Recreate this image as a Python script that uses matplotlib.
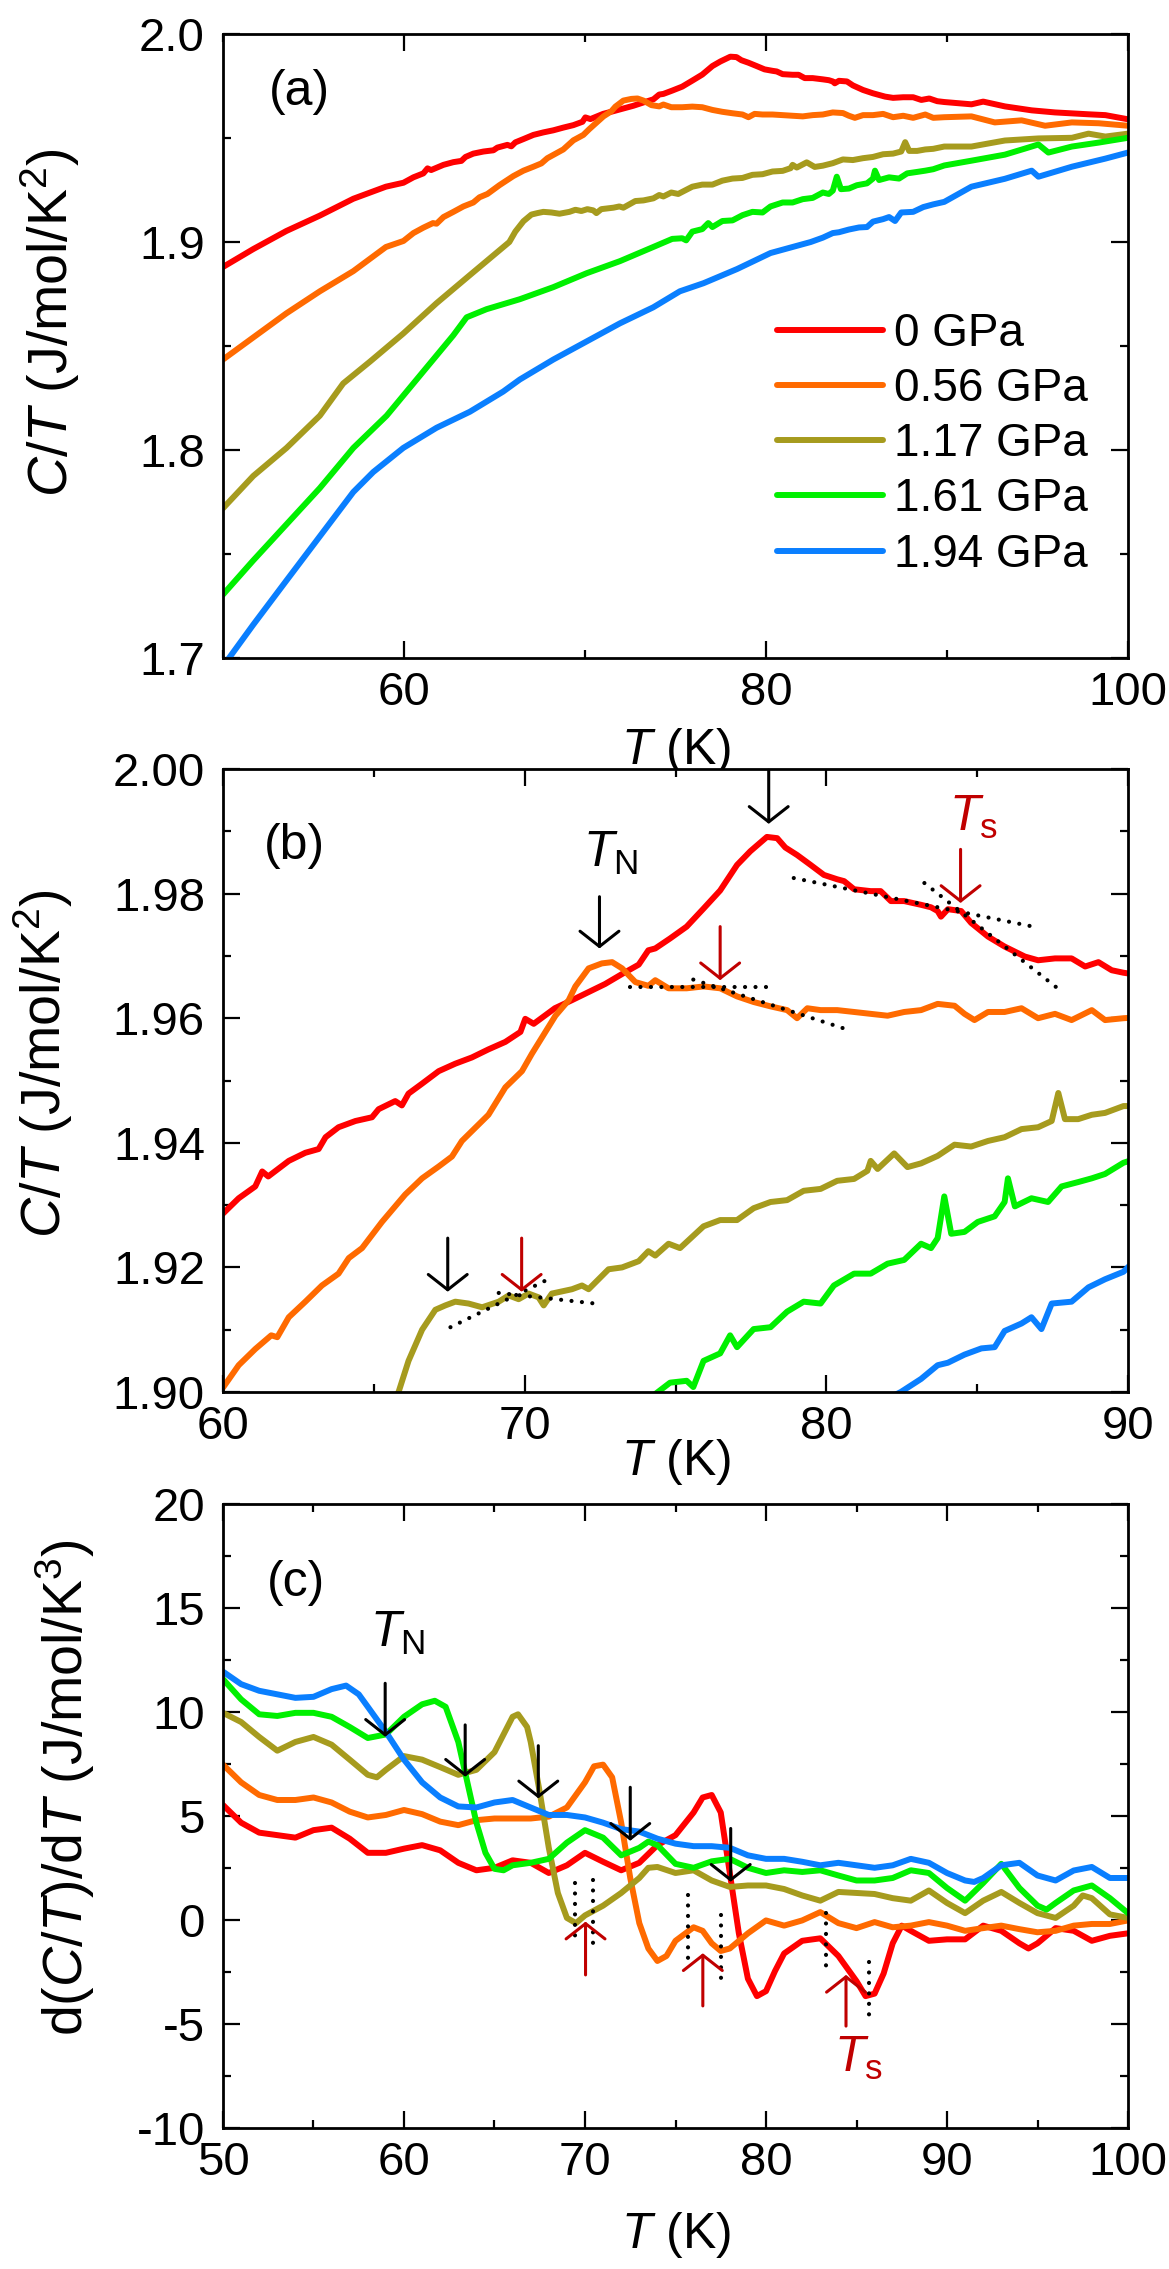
import matplotlib
matplotlib.use('Agg')
import matplotlib.pyplot as plt
from matplotlib.ticker import MultipleLocator, FormatStrFormatter

plt.rcParams['font.family'] = ['Liberation Sans', 'DejaVu Sans']
plt.rcParams['mathtext.fontset'] = 'custom'
plt.rcParams['mathtext.rm'] = 'Liberation Sans'
plt.rcParams['mathtext.it'] = 'Liberation Sans:italic'
plt.rcParams['mathtext.bf'] = 'Liberation Sans:bold'
plt.rcParams['axes.unicode_minus'] = False

# ---------------- data ----------------
pressures = ['0 GPa', '0.56 GPa', '1.17 GPa', '1.61 GPa', '1.94 GPa']
colors = ['#FF0000', '#FF6A00', '#A69B1E', '#00F000', '#0A7FFF']

# C/T (J/mol/K^2) vs T (K)
T_0 = [50, 51.67, 53.5, 55.35, 57.2, 59.0, 59.97, 60.52, 61.07, 61.3, 61.5, 62.18, 62.73, 63.17, 63.4,
       63.83, 64.39, 64.94, 65.16, 65.71, 65.93, 66.15, 66.6, 67.15, 67.7, 68.25, 68.8, 69.36, 69.86,
       70.02, 70.3, 71.0, 71.57, 72.12, 72.67, 73.23, 73.78, 74.1, 74.33, 74.82, 75.37, 75.93, 76.48,
       77.04, 77.48, 78.03, 78.37, 78.64, 79.03, 79.48, 79.92, 80.36, 80.59, 80.92, 81.47, 81.8, 82.14,
       82.58, 83.14, 83.47, 83.69, 83.8, 84.03, 84.47, 84.8, 85.36, 85.91, 86.58, 87.02, 87.58, 88.13,
       88.58, 89.02, 89.46, 89.85, 91.35, 92.0, 93.2, 94.68, 95.97, 97.82, 98.75, 100]
CT_0 = [1.888, 1.8966, 1.9053, 1.9127, 1.9208, 1.9266, 1.9285, 1.9311, 1.933, 1.9354, 1.9346, 1.9371,
        1.9384, 1.939, 1.9409, 1.9425, 1.9435, 1.9441, 1.9454, 1.9467, 1.946, 1.9479, 1.9495, 1.9515,
        1.9527, 1.9537, 1.955, 1.9562, 1.9578, 1.9599, 1.9591, 1.9616, 1.9629, 1.9642, 1.9655, 1.9671,
        1.9686, 1.9709, 1.9712, 1.9728, 1.9747, 1.9776, 1.9805, 1.9846, 1.9868, 1.9891, 1.9889, 1.9874,
        1.9862, 1.9846, 1.983, 1.9823, 1.982, 1.9807, 1.9804, 1.9804, 1.9788, 1.9788, 1.9782, 1.9778,
        1.9772, 1.9763, 1.9775, 1.9772, 1.9753, 1.9731, 1.9715, 1.9699, 1.9693, 1.9696, 1.9696, 1.9683,
        1.969, 1.9677, 1.9673, 1.9662, 1.9675, 1.9652, 1.9633, 1.9623, 1.9614, 1.961, 1.959]

T_056 = [50, 51.67, 53.5, 55.35, 57.2, 59.0, 59.97, 60.52, 61.07, 61.6, 61.8, 62.18, 62.73, 63.28, 63.83,
         64.17, 64.61, 65.27, 66.04, 66.6, 67.15, 67.59, 67.92, 68.8, 69.36, 69.91, 70.24, 71.02, 71.46,
         71.68, 72.12, 72.56, 72.9, 73.23, 73.67, 74.1, 74.33, 74.77, 75.37, 75.93, 76.48, 77.04, 77.59,
         78.15, 78.7, 79.03, 79.37, 79.81, 80.36, 80.92, 81.47, 82.03, 82.58, 83.14, 83.69, 84.25, 84.58,
         84.91, 85.36, 85.91, 86.47, 87.02, 87.58, 88.13, 88.8, 89.24, 89.85, 91.35, 92.64, 94.12, 95.42,
         96.9, 98.38, 100]
CT_056 = [1.8435, 1.8541, 1.8657, 1.8763, 1.886, 1.8976, 1.9005, 1.9043, 1.9069, 1.9091, 1.9088, 1.912,
          1.9145, 1.9171, 1.919, 1.9215, 1.9231, 1.9273, 1.9317, 1.9343, 1.9362, 1.9378, 1.9403, 1.9445,
          1.9489, 1.9515, 1.9543, 1.9604, 1.9629, 1.9651, 1.968, 1.9688, 1.969, 1.968, 1.9658, 1.9652,
          1.9661, 1.9648, 1.9648, 1.9651, 1.9648, 1.9635, 1.9626, 1.9619, 1.9613, 1.96, 1.9616, 1.9613,
          1.9613, 1.961, 1.9607, 1.9604, 1.961, 1.9613, 1.9623, 1.962, 1.9607, 1.9597, 1.961, 1.961,
          1.9616, 1.96, 1.9607, 1.9597, 1.9613, 1.9597, 1.96, 1.9604, 1.9575, 1.9585, 1.9559, 1.9575,
          1.9571, 1.9559]

T_117 = [50, 51.67, 53.51, 55.35, 56.64, 58.12, 59.96, 61.8, 63.64, 65.82, 66.15, 66.6, 67.04, 67.37, 67.7,
         68.14, 68.59, 69.14, 69.47, 69.8, 70.13, 70.46, 70.63, 70.9, 71.57, 71.9, 72.12, 72.78, 73.23,
         73.78, 74.1, 74.33, 74.77, 75.15, 75.93, 76.48, 77.04, 77.59, 78.15, 78.7, 79.25, 79.81, 80.36,
         80.92, 81.36, 81.47, 81.7, 82.25, 82.69, 83.14, 83.69, 84.25, 84.8, 85.36, 85.91, 86.47, 87.02,
         87.47, 87.69, 87.91, 88.35, 88.8, 89.24, 89.85, 91.35, 93.2, 95.05, 96.9, 97.82, 98.75, 100]
CT_117 = [1.772, 1.7875, 1.801, 1.8165, 1.832, 1.8425, 1.856, 1.8706, 1.8841, 1.900, 1.905, 1.91, 1.9132,
          1.9139, 1.9145, 1.9142, 1.9136, 1.9145, 1.9155, 1.9149, 1.9158, 1.9152, 1.9139, 1.9158, 1.9165,
          1.9171, 1.9165, 1.9197, 1.92, 1.921, 1.9226, 1.9219, 1.9238, 1.9231, 1.9266, 1.9276, 1.9276,
          1.9295, 1.9305, 1.9308, 1.9323, 1.9326, 1.9339, 1.9342, 1.9355, 1.9371, 1.9358, 1.9383, 1.9361,
          1.9367, 1.9379, 1.9397, 1.9394, 1.9403, 1.9409, 1.9422, 1.9425, 1.9435, 1.948, 1.9438, 1.9438,
          1.9445, 1.9448, 1.9459, 1.9459, 1.9488, 1.9498, 1.9501, 1.9521, 1.9507, 1.9521]

T_161 = [50, 51.67, 53.51, 55.35, 57.2, 59.04, 60.88, 62.72, 63.46, 64.56, 66.4, 68.25, 70.09, 71.93, 73.77,
         74.82, 75.37, 75.59, 75.93, 76.48, 76.81, 77.04, 77.59, 78.15, 78.7, 79.25, 79.81, 80.25, 80.92,
         81.47, 82.03, 82.58, 83.14, 83.47, 83.69, 83.91, 84.14, 84.58, 85.02, 85.58, 85.91, 86.02, 86.25,
         86.8, 87.35, 87.8, 88.35, 88.8, 89.24, 89.85, 91.35, 93.2, 94.3, 95.05, 95.6, 96.9, 98.38, 100]
CT_161 = [1.7305, 1.7469, 1.7643, 1.7817, 1.801, 1.8165, 1.8358, 1.8551, 1.8638, 1.8677, 1.8725, 1.8783,
          1.885, 1.8908, 1.8976, 1.9015, 1.9018, 1.9008, 1.905, 1.9062, 1.9091, 1.9072, 1.9101, 1.9104,
          1.9129, 1.9145, 1.9142, 1.9171, 1.919, 1.919, 1.9206, 1.9212, 1.9238, 1.9231, 1.9247, 1.9314,
          1.9254, 1.9257, 1.9273, 1.9282, 1.9305, 1.9343, 1.9298, 1.9311, 1.9305, 1.933, 1.9337, 1.9343,
          1.935, 1.9368, 1.9391, 1.942, 1.9449, 1.9469, 1.943, 1.9459, 1.9478, 1.9501]

T_194 = [50, 51.67, 53.51, 55.35, 57.2, 58.3, 59.96, 61.8, 63.64, 65.48, 66.4, 68.25, 70.09, 71.93, 73.77,
         75.24, 76.55, 78.4, 80.25, 82.47, 83.14, 83.69, 84.03, 84.58, 85.14, 85.58, 85.91, 86.47, 86.8,
         87.13, 87.47, 88.13, 88.69, 89.24, 89.85, 91.35, 93.2, 94.68, 95.05, 96.9, 98.75, 100]
CT_194 = [1.696, 1.716, 1.7373, 1.7585, 1.7798, 1.7894, 1.801, 1.8107, 1.8184, 1.8281, 1.8339, 1.8435,
          1.8522, 1.8609, 1.8686, 1.8763, 1.8802, 1.887, 1.8947, 1.900, 1.9021, 1.9043, 1.9047, 1.906,
          1.907, 1.9072, 1.9098, 1.911, 1.912, 1.9101, 1.9142, 1.9145, 1.9168, 1.9181, 1.9193, 1.9266,
          1.9304, 1.9343, 1.9314, 1.9362, 1.9401, 1.943]

# d(C/T)/dT (J/mol/K^3) vs T (K)
Td_0 = [50, 51, 52, 53, 54, 55, 56, 57, 58, 59, 60, 61, 62, 63, 64, 65, 66, 67, 68, 69, 70, 71, 72, 73,
        74, 75, 76, 76.5, 77, 77.5, 78, 78.5, 79, 79.5, 80, 80.5, 81, 82, 83, 84, 85, 85.5, 86, 86.5,
        87, 87.5, 88, 89, 90, 91, 92, 93, 94, 94.5, 95, 96, 97, 98, 99, 100]
dCT_0 = [5.53, 4.68, 4.20, 4.08, 3.96, 4.32, 4.44, 3.91, 3.23, 3.23, 3.43, 3.60, 3.35, 2.75, 2.39, 2.51,
         2.87, 2.75, 2.26, 2.63, 3.23, 2.80, 2.39, 2.75, 3.60, 4.08, 5.17, 5.89, 6.01, 5.17, 2.26, -0.64,
         -2.82, -3.66, -3.42, -2.45, -1.61, -1.00, -0.88, -1.73, -2.94, -3.66, -3.54, -2.57, -1.12,
         -0.27, -0.52, -1.00, -0.93, -0.93, -0.27, -0.52, -1.12, -1.37, -1.12, -0.39, -0.52, -1.00,
         -0.76, -0.64]

Td_056 = [50, 51, 52, 53, 54, 55, 56, 57, 58, 59, 60, 61, 62, 63, 64, 65, 66, 67, 68, 69, 70, 70.5, 71,
          71.5, 72, 72.5, 73, 73.5, 74, 74.5, 75, 76, 76.5, 77, 77.5, 78, 79, 80, 81, 82, 83, 84, 85,
          86, 87, 88, 89, 90, 91, 92, 93, 94, 95, 96, 97, 98, 99, 100]
dCT_056 = [7.47, 6.62, 6.01, 5.77, 5.77, 5.89, 5.65, 5.21, 4.93, 5.05, 5.29, 5.09, 4.73, 4.56, 4.80,
           4.88, 4.88, 4.88, 4.97, 5.41, 6.62, 7.39, 7.47, 6.86, 4.68, 2.02, -0.15, -1.37, -1.97,
           -1.73, -1.00, -0.35, -0.52, -1.12, -1.49, -1.37, -0.64, -0.02, -0.27, -0.02, 0.38, -0.15,
           -0.39, -0.10, -0.35, -0.27, -0.10, -0.27, -0.52, -0.39, -0.27, -0.44, -0.59, -0.52, -0.27,
           -0.19, -0.19, -0.02]

Td_117 = [50, 51, 52, 53, 54, 55, 56, 57, 58, 58.5, 59, 60, 61, 62, 63, 64, 65, 66, 66.3, 66.8, 67,
          67.5, 68, 68.5, 69, 69.5, 70, 71, 72, 73, 73.5, 74, 75, 76, 77, 78, 79, 80, 81, 82, 83, 84,
          85, 86, 87, 88, 89, 90, 91, 92, 93, 94, 95, 96, 97, 97.5, 98, 99, 100]
dCT_117 = [9.96, 9.52, 8.80, 8.14, 8.56, 8.80, 8.43, 7.71, 6.98, 6.86, 7.22, 7.88, 7.71, 7.35, 6.98,
           7.22, 8.07, 9.77, 9.89, 9.28, 8.56, 6.14, 3.47, 1.30, 0.10, -0.15, 0.22, 0.69, 1.30, 2.02,
           2.51, 2.55, 2.26, 2.39, 1.90, 1.59, 1.66, 1.66, 1.49, 1.18, 0.93, 1.35, 1.30, 1.25, 1.05,
           0.93, 1.42, 0.82, 0.33, 0.93, 1.35, 0.82, 0.33, 0.10, 0.69, 1.18, 1.05, 0.27, 0.10]

Td_161 = [50, 51, 52, 53, 54, 55, 56, 57, 58, 59, 60, 61, 61.7, 62.3, 63, 63.5, 64, 64.5, 65, 65.5, 66,
          67, 68, 69, 70, 71, 72, 73, 73.5, 74, 75, 76, 77, 78, 79, 80, 81, 82, 83, 84, 85, 86, 87, 88,
          89, 90, 91, 92, 93, 94, 95, 95.5, 96, 97, 98, 99, 100]
dCT_161 = [11.58, 10.61, 9.89, 9.81, 9.96, 9.96, 9.77, 9.28, 8.75, 8.92, 9.77, 10.37, 10.54, 10.25,
           8.56, 6.62, 4.68, 3.23, 2.46, 2.39, 2.63, 2.75, 2.94, 3.72, 4.32, 3.96, 3.11, 3.47, 3.77,
           3.60, 2.70, 2.51, 2.82, 2.94, 2.51, 2.26, 2.39, 2.31, 2.39, 2.14, 1.90, 1.90, 2.02, 2.39,
           2.26, 1.54, 0.93, 1.78, 2.70, 1.54, 0.69, 0.50, 0.82, 1.42, 1.66, 1.05, 0.33]

Td_194 = [50, 51, 52, 53, 54, 55, 56, 56.8, 57.5, 58, 59, 60, 61, 62, 63, 64, 65, 66, 67, 68, 69, 70,
          71, 72, 73, 74, 75, 76, 77, 78, 79, 80, 81, 82, 83, 84, 85, 86, 87, 88, 89, 90, 91, 91.5, 92,
          93, 94, 95, 96, 97, 98, 99, 100]
dCT_194 = [11.94, 11.34, 11.02, 10.85, 10.68, 10.73, 11.10, 11.27, 10.85, 10.25, 9.04, 7.71, 6.62,
           5.89, 5.46, 5.41, 5.65, 5.77, 5.41, 5.05, 5.05, 4.93, 4.68, 4.37, 4.25, 3.91, 3.67, 3.55,
           3.55, 3.47, 3.11, 2.94, 2.94, 2.80, 2.63, 2.75, 2.63, 2.51, 2.63, 2.94, 2.75, 2.26, 1.90,
           1.83, 2.02, 2.63, 2.75, 2.14, 1.90, 2.38, 2.55, 2.02, 2.02]

CT_T = [T_0, T_056, T_117, T_161, T_194]
CT_V = [CT_0, CT_056, CT_117, CT_161, CT_194]
D_T = [Td_0, Td_056, Td_117, Td_161, Td_194]
D_V = [dCT_0, dCT_056, dCT_117, dCT_161, dCT_194]

# annotations, panel (b): (T, tail, tip)
b_black_arrows = [(72.48, 1.9795, 1.9712), (78.09, 1.9998, 1.9912), (67.45, 1.9247, 1.9161)]
b_red_arrows = [(84.45, 1.9871, 1.9785), (76.48, 1.9747, 1.9661), (69.9, 1.9247, 1.9161)]
b_dotted = [((78.92, 86.86), (1.9825, 1.9747)), ((83.25, 87.85), (1.9817, 1.9641)),
            ((73.5, 78.1), (1.965, 1.965)), ((75.59, 80.81), (1.9662, 1.9580)),
            ((67.54, 70.74), (1.9104, 1.9180)), ((69.14, 72.34), (1.9159, 1.9142))]
b_TN_pos = (72.84, 1.9865)
b_Ts_pos = (84.86, 1.9922)

# annotations, panel (c)
c_black_arrows = [(58.96, 11.38, 8.81), (63.38, 9.38, 6.89), (67.42, 8.38, 5.85),
                  (72.5, 6.38, 3.81), (78.05, 4.40, 1.84)]
c_red_arrows = [(70.03, -2.64, -0.08), (76.51, -4.13, -1.6), (84.42, -5.1, -2.64)]
c_dotted = [(69.45, 1.78, -1.22), (70.42, 1.92, -1.12), (75.71, 1.2, -2.0),
            (77.53, 0.24, -2.9), (83.3, 0.33, -2.66), (85.68, -2.0, -5.0)]
c_TN_pos = (59.66, 13.8)
c_Ts_pos = (85.1, -6.67)

DARKRED = '#C00000'
LW = 4.3
TICKFS = 34
LABFS_Y = 40
LABFS_X = 36
TXTFS = 36
DOT = (0, (0.01, 2.5))

fig = plt.figure(figsize=(11.69, 22.69), dpi=100)
L, W = 0.19076, 0.77417
axa = fig.add_axes([L, 0.71000, W, 0.27501])
axb = fig.add_axes([L, 0.38651, W, 0.27457])
axc = fig.add_axes([L, 0.06214, W, 0.27501])


def style(ax):
    for s in ax.spines.values():
        s.set_linewidth(2.0)
    ax.tick_params(which='both', direction='in', top=True, right=True, width=1.6,
                   labelsize=TICKFS)
    ax.tick_params(which='major', length=12)
    ax.tick_params(which='minor', length=6)
    ax.tick_params(axis='x', which='both', pad=9)
    ax.tick_params(axis='y', which='both', pad=13)


def arrow(ax, x, y0, y1, color):
    ax.annotate('', xy=(x, y1), xytext=(x, y0),
                arrowprops=dict(arrowstyle='->,head_length=0.55,head_width=0.7',
                                color=color, lw=2.2, shrinkA=0, shrinkB=0,
                                mutation_scale=20))


# ---- panel (a)
for t, v, c, lab in zip(CT_T, CT_V, colors, pressures):
    axa.plot(t, v, color=c, lw=LW, label=lab, solid_capstyle='round')
axa.set_xlim(50, 100)
axa.set_ylim(1.7, 2.0)
axa.xaxis.set_major_locator(MultipleLocator(20))
axa.xaxis.set_minor_locator(MultipleLocator(10))
axa.yaxis.set_major_locator(MultipleLocator(0.1))
axa.yaxis.set_minor_locator(MultipleLocator(0.05))
axa.yaxis.set_major_formatter(FormatStrFormatter('%.1f'))
style(axa)
axa.set_xlabel('$T$ (K)', fontsize=LABFS_X)
axa.set_ylabel('$C/T$ (J/mol/K$^2$)', fontsize=LABFS_Y)
axa.xaxis.set_label_coords(0.5, -0.109)
axa.yaxis.set_label_coords(-0.156, 0.538)
axa.text(0.085, 0.907, '(a)', transform=axa.transAxes, fontsize=TXTFS, ha='center', va='center')
axa.legend(loc='upper left', bbox_to_anchor=(0.612, 0.555), frameon=False, fontsize=33,
           handlelength=2.31, handletextpad=0.25, labelspacing=0.245, borderpad=0,
           borderaxespad=0)

# ---- panel (b)
for t, v, c in zip(CT_T, CT_V, colors):
    axb.plot(t, v, color=c, lw=LW, solid_capstyle='round')
for (x0, x1), (y0, y1) in b_dotted:
    axb.plot([x0, x1], [y0, y1], color='black', lw=3.0, ls=DOT, dash_capstyle='round')
for x, y0, y1 in b_black_arrows:
    arrow(axb, x, y0, y1, 'black')
for x, y0, y1 in b_red_arrows:
    arrow(axb, x, y0, y1, DARKRED)
axb.text(*b_TN_pos, r'$T_\mathrm{N}$', fontsize=TXTFS, ha='center', va='center')
axb.text(*b_Ts_pos, r'$T_\mathrm{s}$', fontsize=TXTFS, ha='center', va='center', color=DARKRED)
axb.set_xlim(60, 90)
axb.set_ylim(1.90, 2.00)
axb.xaxis.set_major_locator(MultipleLocator(10))
axb.xaxis.set_minor_locator(MultipleLocator(5))
axb.yaxis.set_major_locator(MultipleLocator(0.02))
axb.yaxis.set_minor_locator(MultipleLocator(0.01))
axb.yaxis.set_major_formatter(FormatStrFormatter('%.2f'))
style(axb)
axb.set_xlabel('$T$ (K)', fontsize=LABFS_X)
axb.set_ylabel('$C/T$ (J/mol/K$^2$)', fontsize=LABFS_Y)
axb.xaxis.set_label_coords(0.5, -0.0722)
axb.yaxis.set_label_coords(-0.1635, 0.528)
axb.text(0.079, 0.877, '(b)', transform=axb.transAxes, fontsize=TXTFS, ha='center', va='center')

# ---- panel (c)
for t, v, c in zip(D_T, D_V, colors):
    axc.plot(t, v, color=c, lw=LW, solid_capstyle='round')
for x, y0, y1 in c_dotted:
    axc.plot([x, x], [y0, y1], color='black', lw=3.0, ls=DOT, dash_capstyle='round')
for x, y0, y1 in c_black_arrows:
    arrow(axc, x, y0, y1, 'black')
for x, y0, y1 in c_red_arrows:
    arrow(axc, x, y0, y1, DARKRED)
axc.text(*c_TN_pos, r'$T_\mathrm{N}$', fontsize=TXTFS, ha='center', va='center')
axc.text(*c_Ts_pos, r'$T_\mathrm{s}$', fontsize=TXTFS, ha='center', va='center', color=DARKRED)
axc.set_xlim(50, 100)
axc.set_ylim(-10, 20)
axc.xaxis.set_major_locator(MultipleLocator(10))
axc.xaxis.set_minor_locator(MultipleLocator(5))
axc.yaxis.set_major_locator(MultipleLocator(5))
axc.yaxis.set_minor_locator(MultipleLocator(2.5))
style(axc)
axc.set_xlabel('$T$ (K)', fontsize=LABFS_X)
axc.set_ylabel('d($C$/$T$)/d$T$ (J/mol/K$^3$)', fontsize=LABFS_Y)
axc.xaxis.set_label_coords(0.5, -0.131)
axc.yaxis.set_label_coords(-0.139, 0.545)
axc.text(0.081, 0.873, '(c)', transform=axc.transAxes, fontsize=TXTFS, ha='center', va='center')

fig.savefig('out.png', dpi=100)
